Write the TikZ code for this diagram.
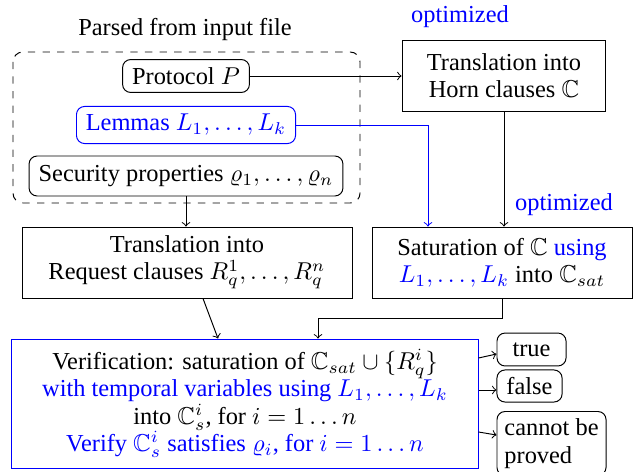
\documentclass[tikz,border=0pt]{standalone}
\usepackage{amssymb}
\usepackage{fontspec}
\newfontfamily\myserif{Liberation Serif}
\usetikzlibrary{calc}
\definecolor{myblue}{RGB}{0,0,255}
\tikzset{
  box/.style={draw, align=center, inner sep=3pt, font=\myserif\fontsize{10}{11.2}\selectfont},
  rbox/.style={box, rounded corners=3.3pt},
  txt/.style={inner sep=0pt, font=\myserif\fontsize{10}{11.2}\selectfont},
  conn/.style={->, line width=0.4pt},
}
\begin{document}
\begin{tikzpicture}[x=0.41pt, y=-0.41pt]
\useasboundingbox (0,0) rectangle (633,471);
% title and dashed group
\node[txt] (title) at (185,30) {Parsed from input file};
\draw[dashed, rounded corners=4pt] (13,52) rectangle (360,203);
\node[rbox, minimum width=52pt, minimum height=13.5pt] (proto) at (186,76) {Protocol $P$};
\node[rbox, draw=myblue, text=myblue, minimum width=89.8pt, minimum height=15.2pt] (lem) at (186,125) {Lemmas $L_1,\ldots,L_k$};
\node[rbox, minimum width=128.7pt, minimum height=16.4pt] (sec) at (186,176) {Security properties $\varrho_1,\ldots,\varrho_n$};
% right column
\node[txt, text=myblue] (opt1) at (460,17) {optimized};
\node[box, minimum width=83.6pt, minimum height=29.1pt] (horn) at (504,75.5) {Translation into\\Horn clauses $\mathbb{C}$};
\node[txt, text=myblue] (opt2) at (564,205) {optimized};
\node[box, minimum width=106.6pt, minimum height=29.1pt] (sat) at (502,262.5) {Saturation of $\mathbb{C}$ \textcolor{myblue}{using}\\\textcolor{myblue}{$L_1,\ldots,L_k$} into $\mathbb{C}_{sat}$};
\node[box, minimum width=135.3pt, minimum height=29.1pt] (req) at (187,262.5) {Translation into\\Request clauses $R_q^1,\ldots,R_q^n$};
% verification
\node[box, draw=myblue, minimum width=191.1pt, minimum height=52.9pt] (ver) at (245,403.5) {Verification: saturation of $\mathbb{C}_{sat}\cup\{R_q^i\}$\\\textcolor{myblue}{with temporal variables using $L_1,\ldots,L_k$}\\into $\mathbb{C}_s^i$, for $i=1\ldots n$\\\textcolor{myblue}{Verify $\mathbb{C}_s^i$ satisfies $\varrho_i$, for $i=1\ldots n$}};
\node[rbox, minimum width=28.3pt, minimum height=13.5pt] (true) at (531.5,349.5) {true};
\node[rbox, minimum width=26.7pt, minimum height=12.3pt] (false) at (529.5,386) {false};
\node[rbox, anchor=north, align=left, inner sep=3pt, minimum width=44.7pt] (cannot) at (551.5,411) {cannot be\\proved};
% connectors
\draw[conn] (proto.east) -- (proto.east -| horn.west);
\draw[conn, myblue] (lem.east) -| (428,0 |- sat.north);
\draw[conn] (horn.south) -- (horn.south |- sat.north);
\draw[conn] (sec.south) -- (sec.south |- req.north);
\draw[conn] (203,0 |- req.south) -- (218,0 |- ver.north);
\draw[conn] (sat.south) -- ++(0,20) -| (318,0 |- ver.north);
\draw[conn] (ver.east |- 0,358) -- (true.west |- 0,354);
\draw[conn] (ver.east |- 0,390) -- (false.west |- 0,390);
\draw[conn] (ver.east |- 0,432) -- (cannot.west |- 0,435);
\end{tikzpicture}
\end{document}
